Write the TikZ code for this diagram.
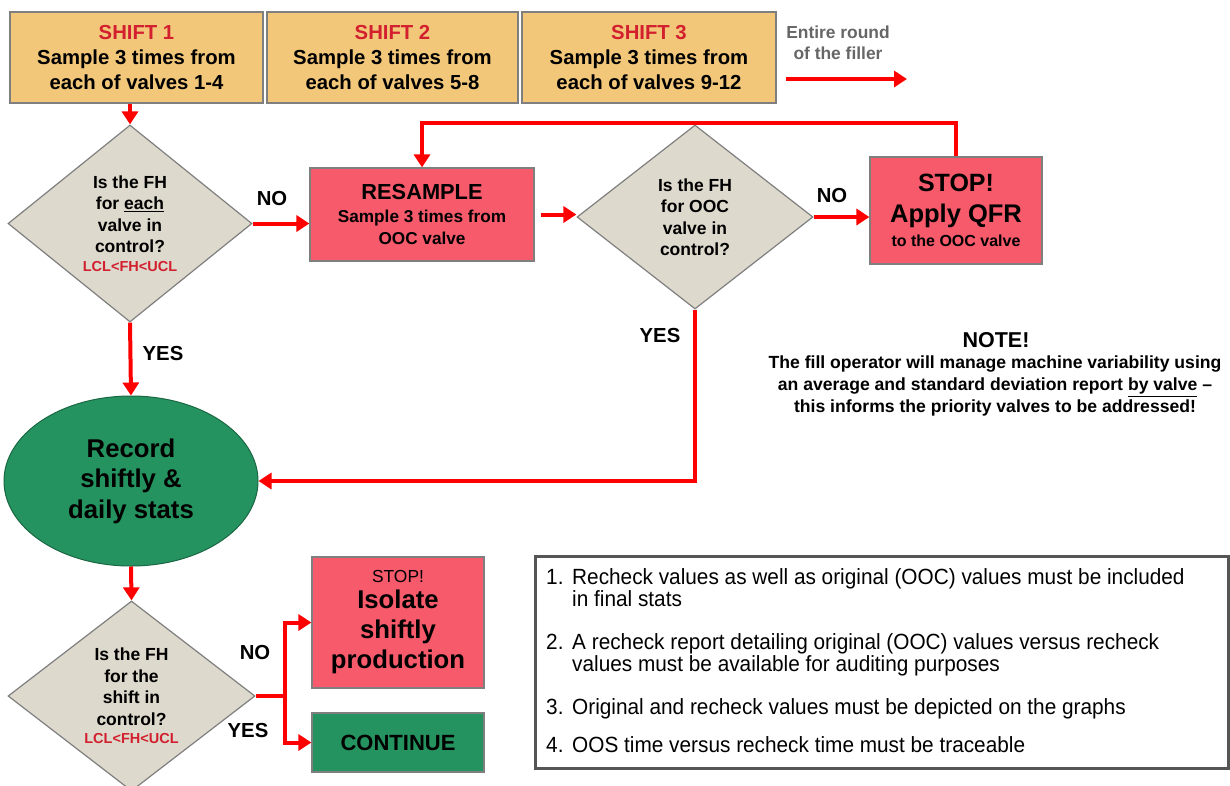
\documentclass[tikz,border=0pt]{standalone}
\usepackage{fontspec}
\setmainfont{Liberation Sans}
\newfontfamily\narrowfont[FakeStretch=0.945]{Liberation Sans}
\usetikzlibrary{shapes.geometric,arrows.meta}

\definecolor{shiftfill}{HTML}{F3C77A}
\definecolor{shiftred}{HTML}{D2202E}
\definecolor{boxgray}{HTML}{7F7F7F}
\definecolor{decfill}{HTML}{DDD9CD}
\definecolor{stopfill}{HTML}{F65A6B}
\definecolor{okgreen}{HTML}{25935F}
\definecolor{arrred}{HTML}{FF0000}
\definecolor{notegray}{HTML}{666666}
\definecolor{framegray}{HTML}{555555}

\tikzset{
  every node/.style={font=\bfseries, inner sep=0pt},
  shiftbox/.style={draw=boxgray, fill=shiftfill, line width=1.2pt, align=center,
    minimum height=91pt, font=\bfseries\fontsize{20.3}{25}\selectfont},
  decision/.style={diamond, draw=boxgray, fill=decfill, line width=1.2pt, align=center,
    font=\bfseries\fontsize{17.5}{21.5}\selectfont},
  stopbox/.style={rectangle, draw=boxgray, fill=stopfill, line width=1.2pt, align=center},
  okbox/.style={rectangle, draw=boxgray, fill=okgreen, line width=1.2pt, align=center},
  arr/.style={draw=arrred, line width=4pt, -{Triangle[length=13pt,width=16pt]}},
  redline/.style={draw=arrred, line width=4pt},
  lbl/.style={font=\bfseries\fontsize{20.3}{22}\selectfont},
  rule/.style={anchor=north west, align=left, font=\narrowfont\mdseries\fontsize{22}{22.5}\selectfont},
}
\newcommand{\ctlimits}{{\color{shiftred}\fontsize{14.5}{16}\selectfont LCL<FH<UCL}}

\begin{document}
\begin{tikzpicture}[x=1pt,y=-1pt]
\useasboundingbox (0,0) rectangle (1230,785);

% shift boxes across the top
\node[shiftbox, minimum width=253pt] (s1) at (136.5,57.5)
  {{\color{shiftred}SHIFT 1}\\Sample 3 times from\\each of valves 1-4};
\node[shiftbox, minimum width=251pt] (s2) at (392.5,57.5)
  {{\color{shiftred}SHIFT 2}\\Sample 3 times from\\each of valves 5-8};
\node[shiftbox, minimum width=254pt] (s3) at (649,57.5)
  {{\color{shiftred}SHIFT 3}\\Sample 3 times from\\each of valves 9-12};

\node[text=notegray, align=center, font=\bfseries\fontsize{17.4}{21.5}\selectfont] (round) at (838,43)
  {Entire round\\of the filler};
\coordinate (f1) at (786,79);
\coordinate (f2) at (907,79);
\draw[arr] (f1) -- (f2);

% first check: every valve
\node[decision, minimum width=244pt, minimum height=197pt] (d1) at (130,223.5)
  {Is the FH\\for \underline{each}\\valve in\\control?\\[-3pt]\ctlimits};
\draw[arr] (d1.north |- s1.south) -- (d1.north);

\node[stopbox, minimum width=224pt, minimum height=93pt, font=\bfseries\fontsize{17.2}{22}\selectfont] (res) at (422,214.5)
  {{\fontsize{21.8}{23}\selectfont RESAMPLE}\\[1pt]Sample 3 times from\\OOC valve};
\draw[arr] (d1.east) -- (res.west |- d1.east);
\node[lbl] (no1) at (272,199) {NO};

% re-check of the out-of-control valve
\node[decision, minimum width=236pt, minimum height=184pt] (d2) at (695,217)
  {Is the FH\\for OOC\\valve in\\control?};
\draw[arr, shorten <=6pt] (res.east) -- (d2.west |- res.east);

\node[stopbox, minimum width=172pt, minimum height=107pt, font=\bfseries\fontsize{16}{24}\selectfont] (stop) at (956,210.5)
  {{\fontsize{25}{28}\selectfont STOP!}\\[7pt]{\fontsize{25.5}{28}\selectfont Apply QFR}\\to the OOC valve};
\draw[arr] (d2.east) -- (stop.west |- d2.east);
\node[lbl] (no2) at (832,196) {NO};

\coordinate (looptop) at (0,123);
\draw[arr] (stop.north) -- (stop.north |- looptop) -| (res.north);

% recording the stats
\node[ellipse, draw=okgreen!70!black, fill=okgreen, line width=1pt, minimum width=254pt, minimum height=170pt,
  align=center, font=\bfseries\fontsize{25.7}{30.5}\selectfont] (rec) at (131,481)
  {Record\\shiftly \&\\daily stats};
\draw[arr] (d1.south) -- (rec.north);
\node[lbl] (yes1) at (163,354) {YES};
\draw[arr] (d2.south) |- (rec.east);
\node[lbl] (yes2) at (660,336) {YES};

% note on machine variability
\node[align=center, font=\bfseries\fontsize{21.5}{22}\selectfont] (notehead) at (996,340) {NOTE!};
\node[align=center, font=\bfseries\fontsize{17.6}{22}\selectfont, anchor=north] (notebody) at (995,356)
  {The fill operator will manage machine variability using\\
   an average and standard deviation report \underline{by valve} --\\
   this informs the priority valves to be addressed!};

% shift-level check
\node[decision, minimum width=247pt, minimum height=188pt] (d3) at (131.5,696)
  {Is the FH\\for the\\shift in\\control?\\[-3pt]\ctlimits};
\draw[arr] (rec.south) -- (d3.north);

\node[stopbox, minimum width=172pt, minimum height=131pt, font=\bfseries\fontsize{25.7}{30}\selectfont] (iso) at (398,622.5)
  {{\mdseries\fontsize{17.4}{18}\selectfont STOP!}\\[-4pt]Isolate\\shiftly\\production};
\node[okbox, minimum width=172pt, minimum height=59pt, font=\bfseries\fontsize{22}{24}\selectfont] (cont) at (398,742.5)
  {CONTINUE};

\coordinate (split) at (285,696);
\draw[redline] (d3.east) -- (split);
\draw[arr] (split) |- (iso.west);
\draw[arr] (split) |- (cont.west);
\node[lbl] (no3) at (255,652) {NO};
\node[lbl] (yes3) at (248,730) {YES};

% auditing requirements
\node[draw=framegray, line width=3pt, minimum width=693pt, minimum height=212pt] (rules) at (881.5,662) {};
\node[rule] (r1) at (546,568)
  {\makebox[26pt][l]{1.}Recheck values as well as original (OOC) values must be included\\
   \hspace*{26pt}in final stats};
\node[rule] (r2) at (546,633)
  {\makebox[26pt][l]{2.}A recheck report detailing original (OOC) values versus recheck\\
   \hspace*{26pt}values must be available for auditing purposes};
\node[rule] (r3) at (546,698)
  {\makebox[26pt][l]{3.}Original and recheck values must be depicted on the graphs};
\node[rule] (r4) at (546,736)
  {\makebox[26pt][l]{4.}OOS time versus recheck time must be traceable};
\end{tikzpicture}
\end{document}
